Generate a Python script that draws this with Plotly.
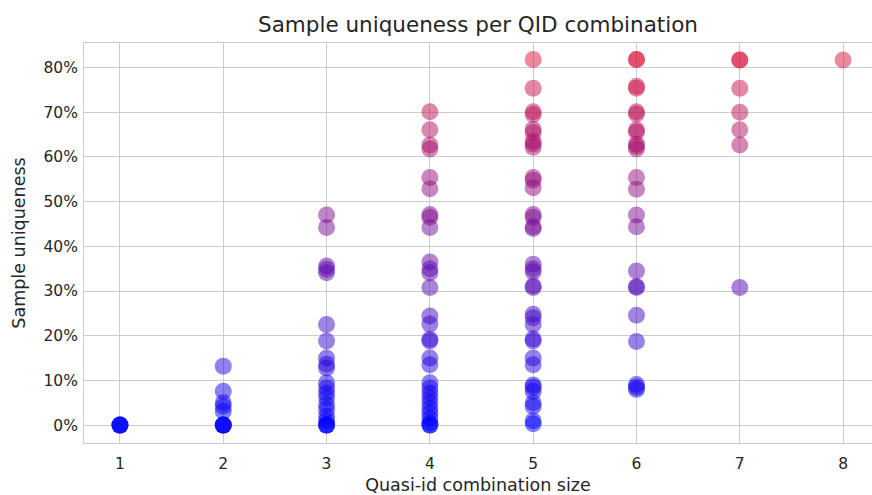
import plotly.graph_objects as go

# QID combination sizes and sample uniqueness values (percent)
size_1 = [0, 0, 0, 0]
size_2 = [13.2, 7.6, 5.0, 4.2, 3.1, 0, 0, 0, 0]
size_3 = [47.0, 44.2, 35.6, 34.9, 34.1, 22.5, 18.8, 15.0, 13.6, 12.8, 9.5, 8.3, 7.2,
          6.1, 4.6, 3.5, 2.0, 1.0, 0, 0, 0]
size_4 = [70.1, 66.1, 62.7, 61.8, 55.4, 52.9, 47.1, 46.5, 44.2, 36.5, 35.0, 34.1,
          30.8, 24.4, 22.6, 18.8, 19.2, 15.0, 13.5, 9.5, 8.3, 7.2, 6.1, 5.0, 3.8,
          2.7, 1.6, 0.5, 0, 0]
size_5 = [81.8, 75.4, 70.1, 69.5, 66.2, 65.5, 62.9, 62.2, 63.5, 55.4, 54.8, 53.1,
          47.1, 46.5, 44.4, 44.0, 36.0, 35.0, 34.3, 30.8, 31.2, 24.8, 24.0, 22.5,
          18.8, 19.3, 15.0, 13.5, 9.0, 8.5, 7.6, 5.0, 4.2, 1.0, 0.3]
size_6 = [81.8, 81.8, 75.4, 75.8, 70.1, 69.6, 66.1, 65.6, 62.9, 62.4, 61.8, 55.4,
          52.8, 47.0, 44.4, 34.5, 30.8, 31.0, 24.6, 18.7, 9.1, 8.5, 8.0]
size_7 = [81.7, 81.7, 75.4, 70.0, 66.1, 62.7, 30.8]
size_8 = [81.7]

groups = {1: size_1, 2: size_2, 3: size_3, 4: size_4,
          5: size_5, 6: size_6, 7: size_7, 8: size_8}

xs, ys = [], []
for k, vals in groups.items():
    for v in vals:
        xs.append(k)
        ys.append(v / 100.0)

x_ticks = [1, 2, 3, 4, 5, 6, 7, 8]
y_ticks = [0, 0.1, 0.2, 0.3, 0.4, 0.5, 0.6, 0.7, 0.8]
y_tick_text = ["0%", "10%", "20%", "30%", "40%", "50%", "60%", "70%", "80%"]

fig = go.Figure()
fig.add_trace(go.Scatter(
    x=xs, y=ys, mode="markers",
    marker=dict(size=17, color=ys, colorscale=[[0, "rgb(0,0,255)"], [1, "rgb(220,20,60)"]],
                cmin=0, cmax=max(ys), opacity=0.5, line=dict(width=0)),
    showlegend=False,
))

grid = "#cccccc"
txt = "#262626"
fig.update_layout(
    width=872, height=495,
    margin=dict(l=84, r=0, t=43, b=52),
    paper_bgcolor="white", plot_bgcolor="white",
    font=dict(family="DejaVu Sans", color=txt),
    title=dict(text="Sample uniqueness per QID combination", x=0.5, xref="paper",
               y=1 - 24 / 495, yref="container", yanchor="middle", xanchor="center",
               font=dict(size=21.5, color=txt)),
    xaxis=dict(range=[0.652, 8.28], tickvals=x_ticks, showgrid=True, gridcolor=grid,
               gridwidth=1, zeroline=False, showline=True, linecolor=grid, mirror=True,
               ticks="outside", ticklen=6, tickcolor="rgba(0,0,0,0)",
               tickfont=dict(size=15.5, color=txt), automargin=False,
               title=dict(text="Quasi-id combination size", font=dict(size=17.5, color=txt),
                          standoff=9)),
    yaxis=dict(range=[-0.040, 0.855], tickvals=y_ticks, ticktext=y_tick_text,
               showgrid=True, gridcolor=grid, gridwidth=1, zeroline=False,
               showline=True, linecolor=grid, automargin=False,
               ticks="outside", ticklen=2, tickcolor="rgba(0,0,0,0)",
               tickfont=dict(size=15.5, color=txt),
               title=dict(text="Sample uniqueness", font=dict(size=17.5, color=txt),
                          standoff=13)),
)

fig.write_html("out.html", config={"displayModeBar": False},
               post_script="document.body.style.margin='0';document.body.style.padding='0';")
